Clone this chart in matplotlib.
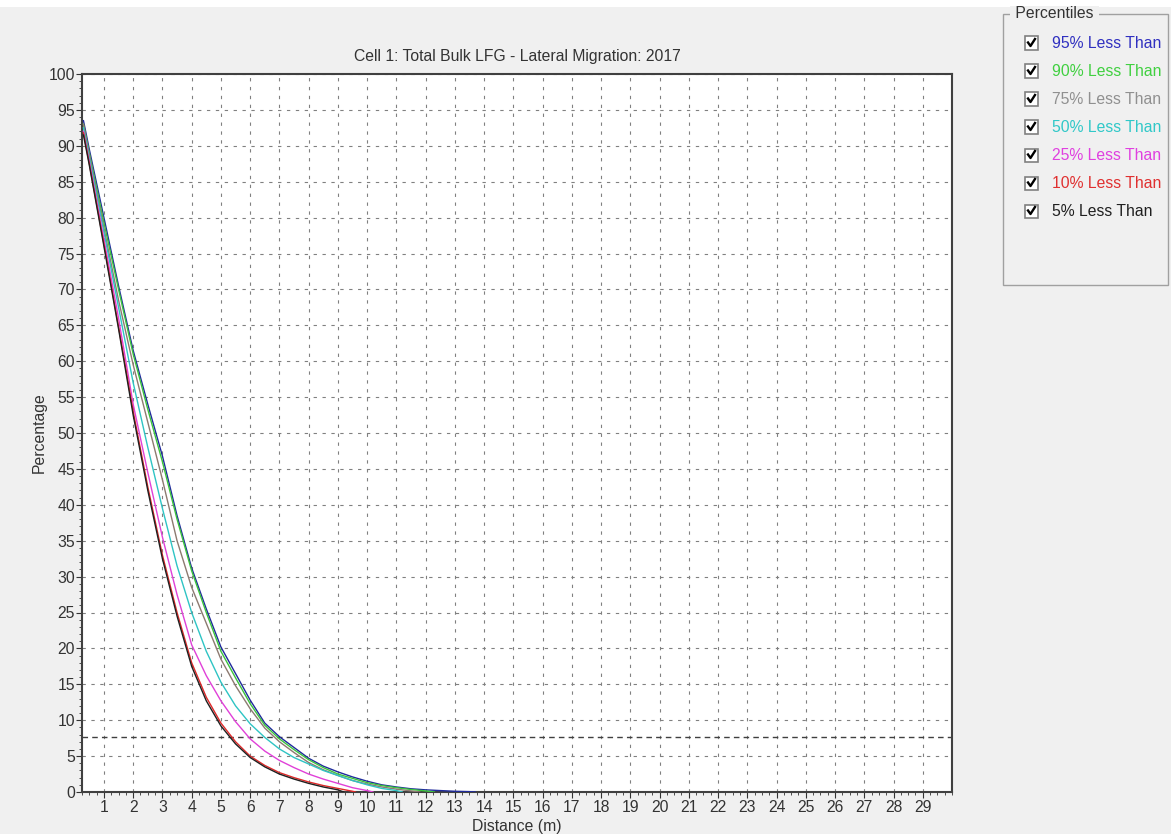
import matplotlib
matplotlib.use("Agg")
import matplotlib.pyplot as plt
from matplotlib.patches import Rectangle
from matplotlib.lines import Line2D
from matplotlib.ticker import MultipleLocator

plt.rcParams['font.family'] = ['Liberation Sans', 'DejaVu Sans']

# ---------------- data ----------------
title = "Cell 1: Total Bulk LFG - Lateral Migration: 2017"
x_label = "Distance (m)"
y_label = "Percentage"
legend_title = "Percentiles"
series_labels = ["95% Less Than", "90% Less Than", "75% Less Than", "50% Less Than",
                 "25% Less Than", "10% Less Than", "5% Less Than"]

dist_95 = [0.3, 0.5, 1, 1.5, 2, 2.5, 3, 3.5, 4, 4.5, 5, 5.5, 6, 6.5, 7, 7.5, 8, 8.5, 9, 9.5, 10, 10.5, 11, 11.5, 12, 12.5, 13, 13.5, 13.7]
pct_95 = [93.5, 89.5, 80, 70.5, 61.5, 54, 46.8, 38.5, 31.2, 25.5, 20.2, 16.5, 12.8, 9.6, 7.7, 6.2, 4.7, 3.6, 2.8, 2.1, 1.5, 1.0, 0.7, 0.45, 0.3, 0.2, 0.1, 0.05, 0]

dist_90 = [0.3, 0.5, 1, 1.5, 2, 2.5, 3, 3.5, 4, 4.5, 5, 5.5, 6, 6.5, 7, 7.5, 8, 8.5, 9, 9.5, 10, 10.5, 11, 11.5, 12, 12.3]
pct_90 = [93, 89, 79.3, 70, 61, 53.3, 46, 38, 30.8, 25, 19.6, 15.9, 12.3, 9.3, 7.4, 5.9, 4.5, 3.4, 2.5, 1.9, 1.3, 0.9, 0.6, 0.35, 0.15, 0]

dist_75 = [0.3, 0.5, 1, 1.5, 2, 2.5, 3, 3.5, 4, 4.5, 5, 5.5, 6, 6.5, 7, 7.5, 8, 8.5, 9, 9.5, 10, 10.5, 11, 11.5, 11.8]
pct_75 = [93, 88.8, 78.5, 68.5, 59.5, 51.5, 43.5, 35, 28.5, 23.5, 18.5, 14.8, 11.6, 8.9, 7.0, 5.5, 4.1, 3.1, 2.3, 1.6, 1.1, 0.7, 0.4, 0.15, 0]

dist_50 = [0.3, 0.5, 1, 1.5, 2, 2.5, 3, 3.5, 4, 4.5, 5, 5.5, 6, 6.5, 7, 7.5, 8, 8.5, 9, 9.5, 10, 10.5, 11, 11.2]
pct_50 = [92.5, 88.3, 78, 67.5, 57, 48, 39.5, 31.5, 25, 19.6, 15.3, 12, 9.5, 7.6, 6.0, 4.8, 3.9, 3.0, 2.3, 1.6, 1.0, 0.5, 0.2, 0]

dist_25 = [0.3, 0.5, 1, 1.5, 2, 2.5, 3, 3.5, 4, 4.5, 5, 5.5, 6, 6.5, 7, 7.5, 8, 8.5, 9, 9.5, 10, 10.2]
pct_25 = [92, 87.8, 77, 66, 54, 44.5, 35.5, 27.5, 20.5, 16.2, 12.7, 9.8, 7.4, 5.7, 4.4, 3.4, 2.5, 1.8, 1.2, 0.6, 0.2, 0]

dist_10 = [0.3, 0.5, 1, 1.5, 2, 2.5, 3, 3.5, 4, 4.5, 5, 5.5, 6, 6.5, 7, 7.5, 8, 8.5, 9, 9.5, 9.6]
pct_10 = [91.8, 87.5, 76.3, 64.8, 53, 42.5, 33, 25, 18, 13.2, 9.6, 7.0, 5.0, 3.7, 2.7, 2.0, 1.4, 0.9, 0.5, 0.1, 0]

dist_5 = [0.3, 0.5, 1, 1.5, 2, 2.5, 3, 3.5, 4, 4.5, 5, 5.5, 6, 6.5, 7, 7.5, 8, 8.5, 9, 9.2]
pct_5 = [91.5, 87.3, 76, 64.5, 52.5, 42, 32.5, 24.5, 17.5, 12.7, 9.2, 6.7, 4.8, 3.5, 2.5, 1.8, 1.2, 0.7, 0.3, 0]

threshold = 7.6

x_ticks = list(range(1, 30))
y_ticks = list(range(0, 101, 5))

line_colors = ["#1f2a9c", "#3cc43c", "#8c7a70", "#2ec4c4", "#e040d8", "#e02828", "#202020"]
text_colors = ["#3030c0", "#40d040", "#909090", "#30c8c8", "#e040e0", "#e03030", "#202020"]

series = [(dist_95, pct_95), (dist_90, pct_90), (dist_75, pct_75), (dist_50, pct_50),
          (dist_25, pct_25), (dist_10, pct_10), (dist_5, pct_5)]

# ---------------- figure ----------------
W, H = 1171, 834
fig = plt.figure(figsize=(W / 100, H / 100), dpi=100, facecolor="#f0f0f0")
fig.patches.append(Rectangle((0, 1 - 7 / H), 1, 7 / H, transform=fig.transFigure,
                             facecolor="white", edgecolor="none", zorder=0))

ax = fig.add_axes([82 / W, 1 - 792 / H, (952 - 82) / W, (792 - 74) / H])
ax.set_facecolor("white")

for (d, p), c in zip(series, line_colors):
    ax.plot(d, p, color=c, lw=1.0, zorder=3)

ax.axhline(threshold, color="#404040", lw=1.0, ls=(0, (4, 3)), zorder=2)

ax.set_xlim(0.25, 30)
ax.set_ylim(0, 100)
ax.set_xticks(x_ticks)
ax.set_yticks(y_ticks)
ax.xaxis.set_minor_locator(MultipleLocator(0.25))
ax.yaxis.set_minor_locator(MultipleLocator(1))
ax.tick_params(axis="both", which="major", direction="out", length=4, width=0.8,
               colors="#333333", labelsize=11.3, labelcolor="#333333")
ax.tick_params(axis="both", which="minor", direction="out", length=2, width=0.6, colors="#333333")
ax.tick_params(axis="x", pad=2)
ax.tick_params(axis="y", pad=1)

ax.grid(True, which="major", color="#808080", lw=0.8, ls=(0, (3, 5)), zorder=1)

for s in ax.spines.values():
    s.set_color("#404040")
    s.set_linewidth(1.5)

ax.set_title(title, fontsize=11.3, color="#333333", pad=9)
ax.set_xlabel(x_label, fontsize=11.3, color="#333333", labelpad=3)
ax.set_ylabel(y_label, fontsize=11.3, color="#333333", labelpad=1)

# ---------------- legend (group box) ----------------
def fx(px):
    return px / W

def fy(py):
    return 1 - py / H

box_l, box_r, box_t, box_b = 1003, 1168, 14, 285
fig.patches.append(Rectangle((fx(box_l), fy(box_b)), fx(box_r) - fx(box_l), fy(box_t) - fy(box_b),
                             transform=fig.transFigure, facecolor="none",
                             edgecolor="#a0a0a0", lw=1.0, zorder=1))
fig.text(fx(1011), fy(box_t), " " + legend_title + " ", fontsize=11.3, color="#333333",
         va="center", ha="left",
         bbox=dict(facecolor="#f0f0f0", edgecolor="none", pad=0.5))

row_y0, row_dy = 43, 28
for i, (lab, tc) in enumerate(zip(series_labels, text_colors)):
    yy = row_y0 + i * row_dy
    cb = 13
    fig.patches.append(Rectangle((fx(1025), fy(yy + cb / 2)), cb / W, cb / H,
                                 transform=fig.transFigure, facecolor="white",
                                 edgecolor="#808080", lw=1.2, zorder=2))
    fig.add_artist(Line2D([fx(1028), fx(1030.5), fx(1035)],
                          [fy(yy - 0.5), fy(yy + 3), fy(yy - 4)],
                          transform=fig.transFigure, color="black", lw=1.7, zorder=3))
    fig.text(fx(1052), fy(yy), lab, fontsize=11.3, color=tc, va="center", ha="left")

fig.savefig("out.png", dpi=100, facecolor=fig.get_facecolor())
